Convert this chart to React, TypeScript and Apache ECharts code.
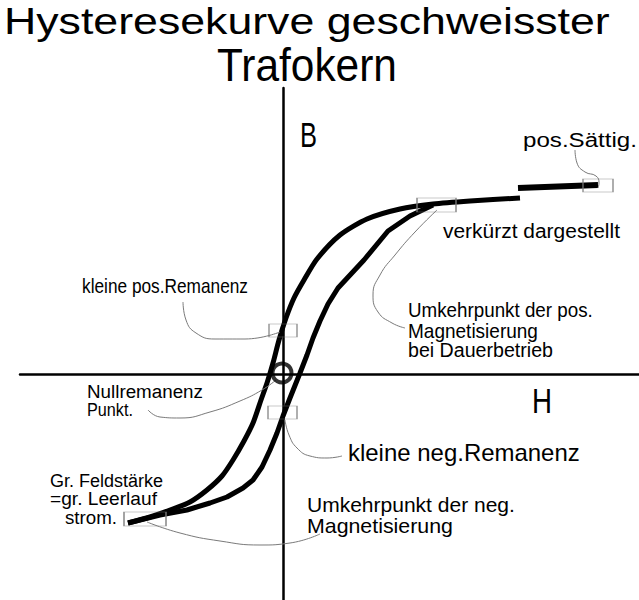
import { useEffect, useRef } from "react";
import * as echarts from "echarts";

// Hysteresis curve, H (field strength) vs B (flux density), arbitrary units
const descendingBranch: [number, number][] = [
  [-15.5, -14.9], [-13.3, -14.3], [-11.3, -13.6], [-9.3, -12.8], [-7.6, -11.6],
  [-6.1, -10.2], [-5.0, -8.6], [-3.9, -6.7], [-3.0, -4.9], [-2.2, -2.6],
  [-1.6, -0.9], [-1.0, 1.1], [-0.4, 3.4], [0.3, 5.6], [1.1, 7.6], [2.1, 9.4],
  [3.4, 11.5], [5.7, 13.9], [8.4, 15.5], [11.7, 16.5], [15.0, 17.0],
  [18.7, 17.3], [23.7, 17.6],
];
const ascendingBranch: [number, number][] = [
  [-15.5, -14.9], [-12.3, -14.1], [-9.6, -13.6], [-7.3, -12.9], [-5.6, -12.3],
  [-4.0, -11.4], [-3.0, -10.6], [-2.1, -9.3], [-1.3, -7.6], [-0.6, -5.9],
  [0.0, -4.2], [0.7, -2.4], [1.7, 0.1], [2.4, 1.9], [3.0, 3.6], [3.7, 5.3],
  [4.5, 7.0], [5.5, 8.6], [8.1, 11.4], [10.5, 14.3], [12.7, 15.8], [15.0, 16.9],
];
const saturationPiece: [number, number][] = [[23.5, 18.6], [31.5, 18.9]];

// marked points (box centres) and null-remanence point
const boxCenters: [number, number][] = [
  [15.35, 16.9],   // verkürzt / Umkehrpunkt pos.
  [31.5, 18.85],   // pos. Sättigung
  [0.0, 4.35],     // kleine pos. Remanenz
  [-0.05, -3.85],  // kleine neg. Remanenz
  [-13.8, -14.5],  // Gr. Feldstärke / Umkehrpunkt neg.
];
const nullPoint: [number, number] = [-0.1, 0.1];

// leader lines
const leaderPosRemanenz: [number, number][] = [[-10.0, 7.2], [-9.7, 5.4], [-8.7, 4.1], [-6.8, 3.5], [-3.8, 3.5], [-0.3, 4.2]];
const leaderNull: [number, number][] = [[-13.5, -3.6], [-12.3, -4.3], [-10.3, -4.4], [-7.3, -3.8], [-4.3, -2.7], [-2.1, -1.6], [-0.7, -0.6]];
const leaderNegRemanenz: [number, number][] = [[0.2, -4.6], [0.6, -6.1], [1.4, -7.4], [2.7, -8.2], [4.4, -8.4], [5.9, -8.2]];
const leaderNegUmkehr: [number, number][] = [[-13.6, -14.8], [-10.3, -15.9], [-6.3, -16.7], [-2.3, -17.1], [0.7, -16.9], [3.7, -16.0]];
const leaderPosUmkehr: [number, number][] = [[15.4, 16.4], [13.2, 14.2], [11.2, 11.9], [9.7, 9.9], [9.0, 7.9], [9.5, 6.2], [10.9, 5.1], [12.2, 4.6]];
const leaderSaettigung: [number, number][] = [[29.2, 22.4], [29.4, 21.1], [30.2, 20.2], [31.3, 19.8], [31.6, 19.1], [31.5, 18.6]];

const titleLines = ["Hysteresekurve geschweisster", "Trafokern"];
const axisNames = ["B", "H"];
const annotations = [
  "pos.Sättig.",
  "verkürzt dargestellt",
  "kleine pos.Remanenz",
  "Umkehrpunkt der pos.",
  "Magnetisierung",
  "bei Dauerbetrieb",
  "Nullremanenz",
  "Punkt.",
  "kleine neg.Remanenz",
  "Gr. Feldstärke",
  "=gr. Leerlauf",
  "strom.",
  "Umkehrpunkt der neg.",
  "Magnetisierung",
];

// layout: [x, baseline, fontSize, width]
const titleLayout = [[4, 34, 36, 606], [217, 81, 46, 180]];
const axisNameLayout = [[300, 147, 35, 17], [532, 413, 35, 20]];
const annotationLayout = [
  [523, 147, 21, 114],
  [443, 238, 21, 177],
  [82, 293, 21, 166],
  [408, 317, 20, 185],
  [408, 338, 20, 130],
  [408, 357, 20, 145],
  [87, 398, 19, 116],
  [87, 416, 19, 46],
  [348, 461, 24, 232],
  [50, 487, 18, 113],
  [50, 505, 18, 107],
  [65, 524, 18, 52],
  [307, 512, 21, 208],
  [307, 533, 21, 146],
];
const boxSizes = [[39, 14], [30, 13], [28, 13], [29, 13], [42, 14]];

const FONT = '"Liberation Sans", Arial, sans-serif';

export default function App() {
  const ref = useRef<HTMLDivElement>(null);
  useEffect(() => {
    if (!ref.current) return;
    const chart = echarts.init(ref.current, undefined, { renderer: "svg" });
    const ctx = document.createElement("canvas").getContext("2d")!;
    const makeText = (text: string, lay: number[]) => {
      const [x, base, size, width] = lay;
      ctx.font = `${size}px ${FONT}`;
      const w = ctx.measureText(text).width || width;
      return {
        type: "text",
        x,
        y: base - 0.35 * size,
        scaleX: width / w,
        silent: true,
        style: {
          text,
          font: `${size}px ${FONT}`,
          lineHeight: size,
          fill: "#000",
          align: "left",
          verticalAlign: "middle",
          textAlign: "left",
          textVerticalAlign: "middle",
        },
      };
    };
    const graphics = [
      ...titleLines.map((t, i) => makeText(t, titleLayout[i])),
      ...axisNames.map((t, i) => makeText(t, axisNameLayout[i])),
      ...annotations.map((t, i) => makeText(t, annotationLayout[i])),
    ];
    const curve = (data: [number, number][], width: number, smooth: boolean | number) => ({
      type: "line",
      data,
      smooth,
      symbol: "none",
      silent: true,
      lineStyle: { color: "#000", width },
      z: 3,
    });
    const leader = (data: [number, number][]) => ({
      type: "line",
      data,
      smooth: true,
      symbol: "none",
      silent: true,
      lineStyle: { color: "#7a7a7a", width: 1 },
      z: 4,
    });
    chart.setOption({
      animation: false,
      grid: { left: 20, right: 0, top: 88, bottom: 0, containLabel: false },
      xAxis: {
        type: "value",
        min: -26.3,
        max: 35.6,
        axisLine: { onZero: true, lineStyle: { color: "#000", width: 2.5 } },
        axisTick: { show: false },
        axisLabel: { show: false },
        splitLine: { show: false },
      },
      yAxis: {
        type: "value",
        min: -22.6,
        max: 28.6,
        axisLine: { onZero: true, lineStyle: { color: "#000", width: 2.5 } },
        axisTick: { show: false },
        axisLabel: { show: false },
        splitLine: { show: false },
      },
      series: [
        curve(descendingBranch, 5, 0.25),
        curve(ascendingBranch, 5, false),
        curve(saturationPiece, 6, false),
        leader(leaderPosRemanenz),
        leader(leaderNull),
        leader(leaderNegRemanenz),
        leader(leaderNegUmkehr),
        leader(leaderPosUmkehr),
        leader(leaderSaettigung),
        {
          type: "scatter",
          silent: true,
          z: 5,
          data: boxCenters.map((c, i) => ({ value: c, symbolSize: boxSizes[i] })),
          symbol: "rect",
          itemStyle: { color: "rgba(0,0,0,0)", borderColor: "#7a7a7a", borderWidth: 1 },
        },
        {
          type: "scatter",
          silent: true,
          z: 6,
          data: [nullPoint],
          symbol: "circle",
          symbolSize: 19,
          itemStyle: { color: "rgba(0,0,0,0)", borderColor: "#000", borderWidth: 4 },
        },
      ],
      graphic: graphics,
    });
    return () => chart.dispose();
  }, []);
  return (
    <div
      ref={ref}
      style={{ position: "absolute", left: 0, top: 0, width: 639, height: 600, background: "#fff" }}
    />
  );
}
